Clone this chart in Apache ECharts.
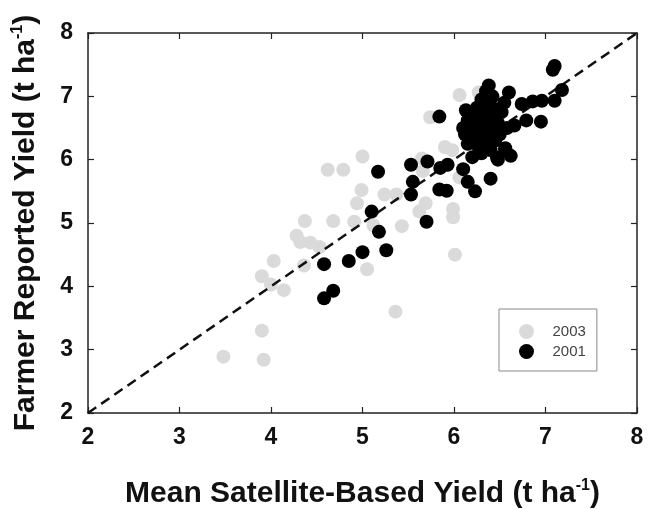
<!DOCTYPE html>
<html lang="en">
<head>
    <meta charset="UTF-8">
    <title>Satellite vs farmer yield</title>
    <style>
        * {
            margin: 0;
            padding: 0;
        }

        body {
            background-color: #fff;
        }

        #chart {
            width: 649px;
            height: 509px;
        }
    </style>
</head>
<body>
<div id="chart"></div>
<script src="https://cdn.jsdelivr.net/npm/echarts@6/dist/echarts.min.js"></script>
<script>
    // [satellite yield, farmer yield]
    var yield2003 = [
        [3.48, 2.89], [3.92, 2.84], [3.90, 3.30], [5.36, 3.60], [3.90, 4.16], [4.00, 4.03],
        [4.14, 3.94], [4.03, 4.40], [4.36, 4.33], [4.28, 4.80], [4.32, 4.70], [4.43, 4.69],
        [4.53, 4.62], [4.37, 5.03], [4.68, 5.03], [4.91, 5.02], [5.05, 4.27], [4.62, 5.84],
        [4.79, 5.84], [5.00, 6.05], [4.99, 5.52], [4.94, 5.31], [5.24, 5.45], [5.37, 5.45],
        [5.12, 4.96], [5.43, 4.95], [5.62, 5.18], [5.69, 5.31], [5.99, 5.22], [5.99, 5.09],
        [6.01, 4.50], [5.74, 6.67], [6.06, 7.02], [6.27, 7.06], [5.90, 6.20], [5.98, 6.15],
        [5.66, 5.82], [6.06, 5.72], [5.65, 6.02], [6.30, 6.60]
    ];
    var yield2001 = [
        [4.58, 3.81], [4.68, 3.93], [4.58, 4.35], [4.85, 4.40], [5.00, 4.54], [5.26, 4.57],
        [5.18, 4.86], [5.10, 5.18], [5.17, 5.81], [5.53, 5.92], [5.55, 5.65], [5.53, 5.45],
        [5.70, 5.02], [5.71, 5.97], [5.85, 5.87], [5.93, 5.92], [5.84, 5.53], [5.92, 5.51],
        [5.84, 6.68], [6.10, 5.85], [6.15, 5.65], [6.23, 5.50], [6.40, 5.70], [6.48, 6.00],
        [6.62, 6.06], [6.56, 6.18], [6.13, 6.78], [6.38, 7.17], [6.60, 7.06], [6.74, 6.88],
        [6.86, 6.92], [6.96, 6.93], [6.79, 6.62], [6.95, 6.60], [7.10, 6.93], [7.18, 7.10],
        [7.08, 7.42], [7.10, 7.48], [6.66, 6.54],
        [6.20, 6.04], [6.47, 6.03], [6.56, 6.15], [6.30, 6.10], [6.40, 6.15], [6.15, 6.25],
        [6.25, 6.30], [6.35, 6.28], [6.45, 6.30], [6.12, 6.40], [6.22, 6.45], [6.32, 6.42],
        [6.42, 6.45], [6.50, 6.40], [6.18, 6.55], [6.28, 6.58], [6.38, 6.55], [6.48, 6.58],
        [6.20, 6.68], [6.30, 6.70], [6.40, 6.68], [6.25, 6.82], [6.35, 6.85], [6.45, 6.80],
        [6.30, 6.95], [6.42, 7.00], [6.55, 6.90], [6.35, 7.08], [6.15, 6.62], [6.10, 6.50],
        [6.58, 6.50], [6.27, 6.20], [6.36, 6.36], [6.24, 6.38], [6.46, 6.68], [6.52, 6.75]
    ];
    var oneToOne = [[2, 2], [8, 8]];
    var axisTicks = [2, 3, 4, 5, 6, 7, 8];

    var font = '"Liberation Sans", Arial, sans-serif';
    var supStyle = {
        fontSize: 16,
        fontWeight: 'bold',
        fontFamily: font,
        color: '#111',
        padding: [0, 0, 16, 0]
    };
    var boxAxis = {
        type: 'value',
        min: axisTicks[0],
        max: axisTicks[axisTicks.length - 1],
        interval: 1,
        axisLine: {lineStyle: {color: '#222', width: 1.5}},
        axisTick: {inside: true, length: 6, lineStyle: {color: '#222', width: 1.2}},
        axisLabel: {show: false},
        splitLine: {show: false}
    };

    var chart = echarts.init(document.getElementById('chart'));
    chart.setOption({
        backgroundColor: '#fff',
        animation: false,
        grid: {left: 88, right: 12, top: 33, bottom: 96, outerBoundsMode: 'none'},
        legend: {
            data: ['2003', '2001'],
            orient: 'vertical',
            left: 499,
            top: 309,
            padding: [15, 11, 12, 20],
            itemWidth: 42,
            itemHeight: 15,
            itemGap: 5,
            borderColor: '#888',
            borderWidth: 1,
            textStyle: {fontSize: 15, color: '#444', fontFamily: font}
        },
        xAxis: [
            Object.assign({}, boxAxis, {
                position: 'bottom',
                name: 'Mean Satellite-Based Yield (t ha{sup|-1})',
                nameLocation: 'middle',
                nameGap: 65,
                nameTextStyle: {
                    fontSize: 30, fontWeight: 'bold', color: '#111', fontFamily: font,
                    rich: {sup: supStyle}
                },
                axisLabel: {show: true, fontSize: 23, fontWeight: 'bold', color: '#111', fontFamily: font, margin: 13}
            }),
            Object.assign({}, boxAxis, {position: 'top'})
        ],
        yAxis: [
            Object.assign({}, boxAxis, {
                position: 'left',
                name: 'Farmer Reported Yield (t ha{sup|-1})',
                nameLocation: 'middle',
                nameGap: 46,
                nameTextStyle: {
                    fontSize: 30, fontWeight: 'bold', color: '#111', fontFamily: font,
                    rich: {sup: supStyle}
                },
                axisLabel: {show: true, fontSize: 23, fontWeight: 'bold', color: '#111', fontFamily: font, margin: 15}
            }),
            Object.assign({}, boxAxis, {position: 'right'})
        ],
        series: [
            {
                name: '2003',
                type: 'scatter',
                data: yield2003,
                symbolSize: 14,
                itemStyle: {color: '#dadada', opacity: 1},
                z: 2
            },
            {
                name: '1:1',
                type: 'line',
                data: oneToOne,
                symbol: 'none',
                lineStyle: {color: '#111', width: 2.5, type: [10, 6]},
                z: 3
            },
            {
                name: '2001',
                type: 'scatter',
                data: yield2001,
                symbolSize: 14,
                itemStyle: {color: '#000', opacity: 1},
                z: 4
            }
        ]
    });
</script>
</body>
</html>
